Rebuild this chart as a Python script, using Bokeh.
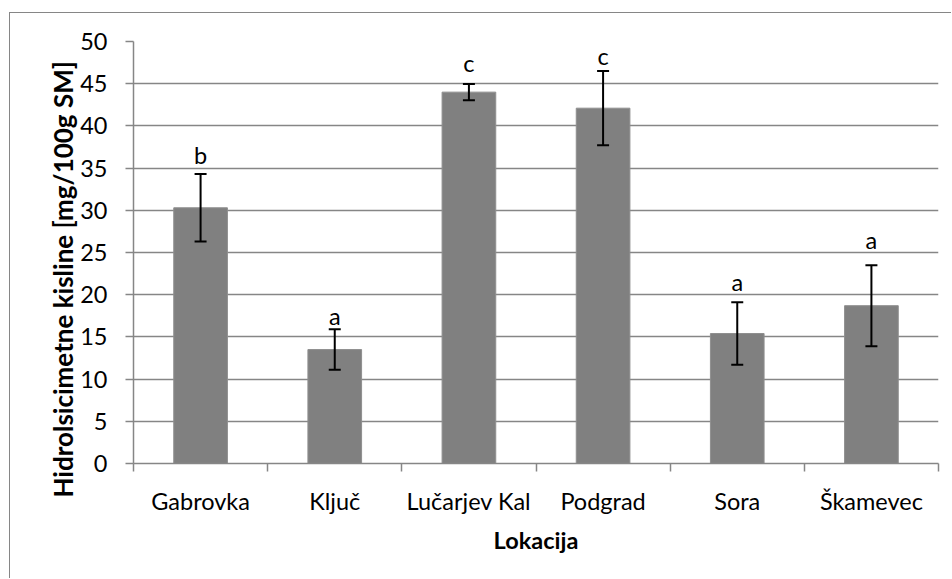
from bokeh.plotting import figure
from bokeh.models import FixedTicker, ColumnDataSource, Range1d, Title
from bokeh.core.properties import value
from bokeh.embed import file_html
from bokeh.resources import INLINE

categories = ["Gabrovka", "Ključ", "Lučarjev Kal", "Podgrad", "Sora", "Škamevec"]
means = [30.3, 13.5, 44.0, 42.1, 15.4, 18.7]
errors = [4.0, 2.4, 0.95, 4.4, 3.7, 4.8]
letters = ["b", "a", "c", "c", "a", "a"]
letter_y = [35.3, 16.2, 46.2, 46.95, 20.15, 25.2]
y_ticks = [0, 5, 10, 15, 20, 25, 30, 35, 40, 45, 50]

FONT = "Lato"
GRID = "#868686"

xs = [i + 0.5 for i in range(len(categories))]
src = ColumnDataSource(dict(
    x=xs, top=means,
    upper=[m + e for m, e in zip(means, errors)],
    lower=[m - e for m, e in zip(means, errors)],
    ly=letter_y, lt=letters,
))

W, H = 942, 566
FL, FT, FW, FH = 123, 28, 805, 422
p = figure(width=W, height=H, output_backend="svg", toolbar_location=None,
           x_range=Range1d(0, len(categories)), y_range=Range1d(0, 50))
p.min_border_left = FL
p.min_border_right = W - FL - FW
p.min_border_top = FT
p.min_border_bottom = H - FT - FH
p.outline_line_color = None
p.background_fill_color = "white"
p.border_fill_color = "white"
p.styles = {"margin-left": "9px", "margin-top": "12px",
            "border-left": "1px solid #868686", "border-top": "1px solid #868686"}

p.vbar(x="x", top="top", width=0.4, bottom=0, source=src,
       fill_color="#808080", line_color="#8f8f8f", line_width=1)

# error bars
p.segment(x0="x", y0="lower", x1="x", y1="upper", source=src,
          line_color="black", line_width=2)
p.scatter(x="x", y="upper", source=src, marker="dash", size=12,
          line_color="black", line_width=2)
p.scatter(x="x", y="lower", source=src, marker="dash", size=12,
          line_color="black", line_width=2)

p.text(x="x", y="ly", text="lt", source=src, text_align="center",
       text_baseline="bottom", y_offset=3, text_font=value(FONT),
       text_font_size="23.5px", text_color="black")

# grid
p.xgrid.grid_line_color = None
p.ygrid.grid_line_color = GRID
p.ygrid.grid_line_width = 1.5
p.ygrid.ticker = FixedTicker(ticks=y_ticks)

# y axis
p.yaxis.ticker = FixedTicker(ticks=y_ticks)
p.yaxis.axis_line_color = GRID
p.yaxis.axis_line_width = 1.5
p.yaxis.major_tick_line_color = GRID
p.yaxis.major_tick_line_width = 1.5
p.yaxis.major_tick_out = 8
p.yaxis.major_tick_in = 0
p.yaxis.minor_tick_line_color = None
p.yaxis.major_label_text_font = FONT
p.yaxis.major_label_text_font_size = "23.5px"
p.yaxis.major_label_text_color = "black"
p.yaxis.major_label_standoff = 18

ytitle = Title(text="Hidrolsicimetne kisline [mg/100g SM]", align="left",
               offset=-34, standoff=-2, text_font=FONT, text_font_size="26px",
               text_font_style="bold", text_color="black")
p.add_layout(ytitle, "left")

# x axis
p.xaxis.ticker = FixedTicker(ticks=xs, minor_ticks=list(range(len(categories) + 1)))
p.xaxis.major_label_overrides = {x: c for x, c in zip(xs, categories)}
p.xaxis.axis_line_color = GRID
p.xaxis.axis_line_width = 1.5
p.xaxis.major_tick_line_color = None
p.xaxis.major_tick_out = 0
p.xaxis.major_tick_in = 0
p.xaxis.minor_tick_line_color = GRID
p.xaxis.minor_tick_line_width = 1.5
p.xaxis.minor_tick_out = 8
p.xaxis.minor_tick_in = 0
p.xaxis.major_label_text_font = FONT
p.xaxis.major_label_text_font_size = "23.5px"
p.xaxis.major_label_text_color = "black"
p.xaxis.major_label_standoff = 15
p.xaxis.axis_label = "Lokacija"
p.xaxis.axis_label_text_font = FONT
p.xaxis.axis_label_text_font_size = "23.5px"
p.xaxis.axis_label_text_font_style = "bold"
p.xaxis.axis_label_text_color = "black"
p.xaxis.axis_label_standoff = 8

open("out.html", "w").write(file_html(p, INLINE))
